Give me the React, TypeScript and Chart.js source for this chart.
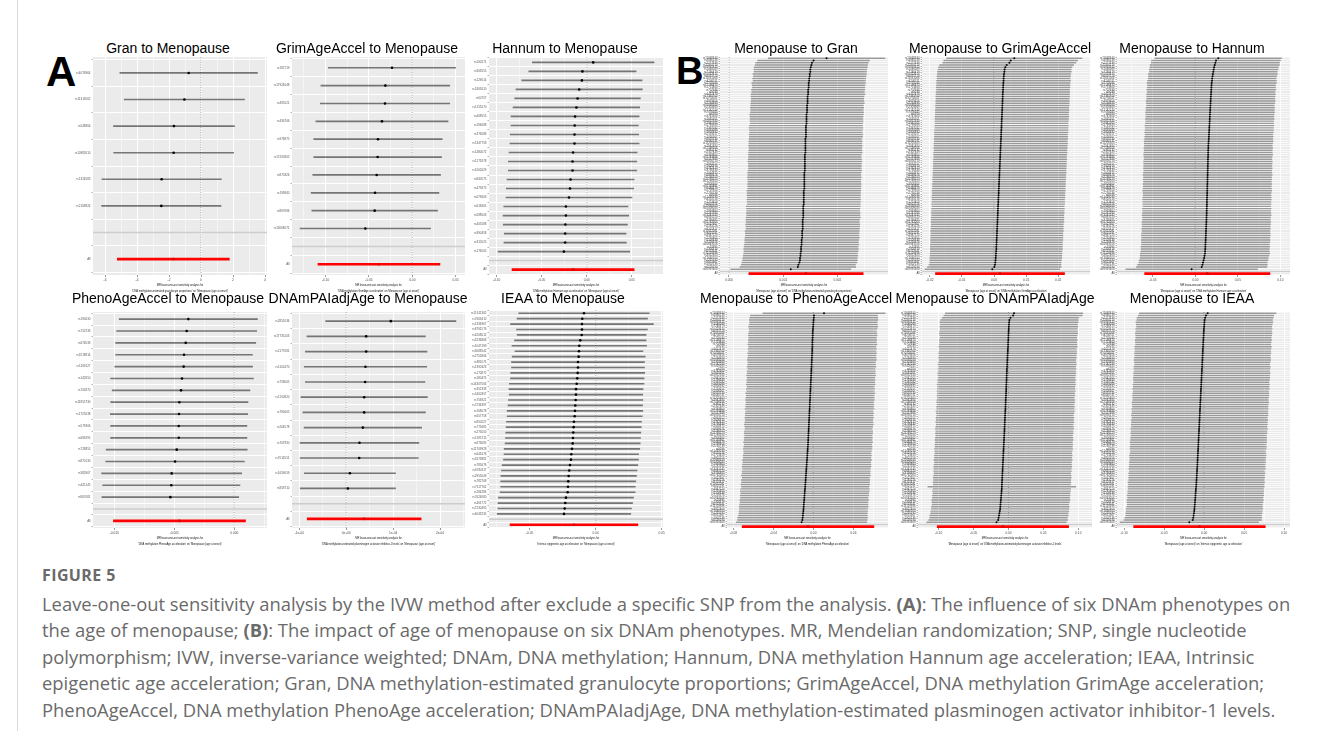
import React, { useEffect, useRef } from 'react';
import { Chart, registerables } from 'chart.js';
Chart.register(...registerables);

const FONT = '"Liberation Sans", Arial, Helvetica, sans-serif';

// ---------------- Panel A data (exposure: DNAm phenotype, outcome: menopause) ----------------
const GRAN_SNPS = ['rs4076964', 'rs11313062', 'rs548866', 'rs10982610', 'rs1324583', 'rs2168824'];
const GRAN_EST = [-0.77, -1.04, -1.69, -1.71, -2.46, -2.48];
const GRAN_SE = [2.194, 1.918, 1.929, 1.913, 1.903, 1.903];
const GRAN_ALL = [-1.73, 1.786];

const GRIM_SNPS = ['rs182719', 'rs17924048', 'rs495521', 'rs436706', 'rs976875', 'rs17205805', 'rs870326', 'rs193840', 'rs867696', 'rs13068071'];
const GRIM_EST = [-0.0234, -0.0311, -0.0315, -0.035, -0.0396, -0.04, -0.0411, -0.043, -0.0434, -0.0542];
const GRIM_SE = [0.0375, 0.0379, 0.0381, 0.0389, 0.0378, 0.0376, 0.0376, 0.0376, 0.037, 0.0384];
const GRIM_ALL = [-0.0385, 0.0359];

const HANN_SNPS = ['rs100271', 'rs303555', 'rs129014', 'rs2405610', 'rs50757', 'rs1155570', 'rs408555', 'rs194088', 'rs376588', 'rs1347758', 'rs1480072', 'rs1171878', 'rs1062629', 'rs840575', 'rs475875', 'rs679603', 'rs618405', 'rs588503', 'rs405588', 'rs390458', 'rs310525', 'rs176502'];
const HANN_EST = [0.0072, -0.0048, -0.0054, -0.0084, -0.0102, -0.0115, -0.013, -0.0134, -0.0136, -0.0136, -0.0152, -0.0158, -0.0158, -0.018, -0.0186, -0.0197, -0.0232, -0.0232, -0.0238, -0.024, -0.024, -0.0254];
const HANN_SE = [0.0345, 0.0304, 0.0341, 0.0358, 0.0356, 0.0359, 0.0363, 0.0361, 0.0364, 0.0366, 0.0363, 0.0364, 0.0364, 0.036, 0.0361, 0.0357, 0.0352, 0.0356, 0.0352, 0.0345, 0.0347, 0.0373];
const HANN_ALL = [-0.0152, 0.0346];

const PHENO_SNPS = ['rs190030', 'rs752233', 'rs676533', 'rs3218814', 'rs1169127', 'rs142650', 'rs702870', 'rs11855730', 'rs1725038', 'rs579306', 'rs696295', 'rs728855', 'rs870130', 'rs382667', 'rs621145', 'rs867081'];
const PHENO_EST = [-0.00383, -0.00397, -0.00405, -0.00419, -0.00422, -0.00436, -0.00444, -0.00458, -0.00461, -0.00463, -0.00463, -0.0048, -0.00494, -0.00522, -0.00525, -0.00533];
const PHENO_SE = [0.00294, 0.00298, 0.00298, 0.00291, 0.00293, 0.00304, 0.00293, 0.00292, 0.00292, 0.0029, 0.0029, 0.003, 0.00295, 0.00298, 0.00292, 0.00291];
const PHENO_ALL = [-0.00457, 0.00281];

const PAI_SNPS = ['rs2851034', 'rs17735103', 'rs2177081', 'rs1102470', 'rs758005', 'rs1150820', 'rs790005', 'rs204578', 'rs707830', 'rs7014551', 'rs1659059', 'rs858710'];
const PAI_EST = [9.51e-5, 4.26e-5, 4.26e-5, 4.11e-5, 4.04e-5, 3.83e-5, 3.83e-5, 3.55e-5, 2.83e-5, 2.77e-5, 0.79e-5, 0.36e-5];
const PAI_SE = [7.08e-5, 6.44e-5, 6.61e-5, 6.66e-5, 6.5e-5, 6.87e-5, 6.66e-5, 6.39e-5, 6.46e-5, 6.42e-5, 4.96e-5, 5.18e-5];
const PAI_ALL = [3.83e-5, 6.19e-5];

const IEAA_SNPS = ['rs11611362', 'rs7669410', 'rs1334967', 'rs8791576', 'rs4208012', 'rs3236868', 'rs1047199', 'rs3088542', 'rs2755806', 'rs381071',
  'rs1390323', 'rs170872', 'rs180475', 'rs14307566', 'rs352333', 'rs5400357', 'rs756921', 'rs7234397', 'rs168078', 'rs657758',
  'rs850527', 'rs775685', 'rs275050', 'rs1185715', 'rs873085', 'rs11709928', 'rs641676', 'rs1673882', 'rs785676', 'rs6784117',
  'rs2955049', 'rs782708', 'rs7117762', 'rs284286', 'rs7624080', 'rs401772', 'rs7230495', 'rs4043235'];
const IEAA_EST = [-0.00886, -0.01015, -0.01038, -0.01038, -0.01061, -0.01167, -0.01242, -0.01265, -0.01288, -0.01341,
  -0.01341, -0.01364, -0.01394, -0.01439, -0.01492, -0.01492, -0.01515, -0.01545, -0.01568, -0.01591,
  -0.01644, -0.01667, -0.01697, -0.0172, -0.01742, -0.01795, -0.01848, -0.01871, -0.01947, -0.02,
  -0.02045, -0.02076, -0.02098, -0.02121, -0.0225, -0.02303, -0.02348, -0.02402];
const IEAA_SE = [0.0252, 0.0252, 0.0276, 0.0253, 0.0249, 0.0254, 0.026, 0.0247, 0.0257, 0.0257,
  0.0257, 0.0259, 0.0258, 0.026, 0.0259, 0.0258, 0.026, 0.026, 0.0262, 0.0261,
  0.0261, 0.0261, 0.0261, 0.0261, 0.0261, 0.0262, 0.026, 0.0261, 0.0262, 0.0262,
  0.0262, 0.0261, 0.026, 0.0261, 0.0261, 0.026, 0.0258, 0.0258];
const IEAA_ALL = [-0.01644, 0.0247];

// ---------------- Panel B data (exposure: menopause, outcome: DNAm phenotype) ----------------
const B_SNPS = [
  'rs11668344', 'rs4886238', 'rs2277339', 'rs12461110', 'rs16991615', 'rs1046089', 'rs7246479', 'rs10423674', 'rs6075720', 'rs11031006',
  'rs4246511', 'rs2720044', 'rs12196873', 'rs1713460', 'rs707938', 'rs9039', 'rs1411478', 'rs17365704', 'rs10734411', 'rs4879656',
  'rs2234693', 'rs10838168', 'rs2303369', 'rs12142240', 'rs7459185', 'rs6780', 'rs3741604', 'rs1635501', 'rs10852344', 'rs2941505',
  'rs1799949', 'rs7397032', 'rs4693089', 'rs1800932', 'rs2153157', 'rs1056507', 'rs8070740', 'rs6440741', 'rs11205303', 'rs2941484',
  'rs12599106', 'rs365132', 'rs2307449', 'rs9393800', 'rs10183486', 'rs2517388', 'rs16858210', 'rs1961157', 'rs7606918', 'rs4762413',
  'rs3736830', 'rs1054875', 'rs6899676', 'rs2236553', 'rs11738223', 'rs12294104', 'rs4806660', 'rs10130861', 'rs6484478', 'rs1799950',
  'rs2230739', 'rs9796', 'rs12439290', 'rs8110516', 'rs1713458', 'rs4801756', 'rs11668309', 'rs10409043', 'rs7993864', 'rs2241584',
  'rs13241545', 'rs6891520', 'rs3736485', 'rs10762003', 'rs2027307', 'rs1183226', 'rs8101417', 'rs12611091', 'rs9425291', 'rs4947220',
  'rs2291955', 'rs1109338', 'rs7259376', 'rs16843556', 'rs10995', 'rs2304319', 'rs6513541', 'rs11129396', 'rs3822400', 'rs17690703',
  'rs2255192', 'rs9851967', 'rs1002136', 'rs6559190', 'rs16991608'];

const MG_EST = [0.0018, 0.00156, 0.00153, 0.00152, 0.00151, 0.0015, 0.0015, 0.00149, 0.00149, 0.00148,
  0.00148, 0.00147, 0.00147, 0.00147, 0.00146, 0.00146, 0.00146, 0.00145, 0.00145, 0.00145,
  0.00145, 0.00144, 0.00144, 0.00144, 0.00144, 0.00143, 0.00143, 0.00143, 0.00143, 0.00143,
  0.00142, 0.00142, 0.00142, 0.00142, 0.00142, 0.00142, 0.00141, 0.00141, 0.00141, 0.00141,
  0.00141, 0.00141, 0.00141, 0.0014, 0.0014, 0.0014, 0.0014, 0.0014, 0.0014, 0.0014,
  0.0014, 0.00139, 0.00139, 0.00139, 0.00139, 0.00139, 0.00139, 0.00139, 0.00139, 0.00138,
  0.00138, 0.00138, 0.00138, 0.00138, 0.00138, 0.00138, 0.00137, 0.00137, 0.00137, 0.00137,
  0.00137, 0.00137, 0.00136, 0.00136, 0.00136, 0.00136, 0.00136, 0.00135, 0.00135, 0.00135,
  0.00135, 0.00134, 0.00134, 0.00134, 0.00133, 0.00133, 0.00133, 0.00132, 0.00132, 0.00131,
  0.00131, 0.0013, 0.00128, 0.00127, 0.00114];
const MG_SE = [0.000549, 0.000527, 0.00053, 0.000528, 0.000533, 0.000531, 0.000529, 0.000534, 0.00053, 0.000532,
  0.000528, 0.000535, 0.000531, 0.000529, 0.000533, 0.00053, 0.000536, 0.000532, 0.000529, 0.000531,
  0.000534, 0.00053, 0.000533, 0.000528, 0.000532, 0.000535, 0.000531, 0.00053, 0.000533, 0.000529,
  0.000532, 0.000536, 0.000531, 0.00053, 0.000534, 0.000532, 0.000529, 0.000533, 0.000531, 0.000535,
  0.00053, 0.000532, 0.000534, 0.000531, 0.000529, 0.000533, 0.000536, 0.000531, 0.000532, 0.00053,
  0.000534, 0.000533, 0.000531, 0.000535, 0.000532, 0.00053, 0.000534, 0.000533, 0.000531, 0.000536,
  0.000532, 0.000534, 0.000531, 0.000535, 0.000533, 0.000532, 0.000536, 0.000534, 0.000531, 0.000535,
  0.000533, 0.000537, 0.000534, 0.000532, 0.000536, 0.000535, 0.000533, 0.000537, 0.000535, 0.000534,
  0.000538, 0.000536, 0.000534, 0.000538, 0.000536, 0.000539, 0.000537, 0.000535, 0.000539, 0.000538,
  0.00054, 0.000541, 0.000537, 0.000545, 0.000565];
const MG_ALL = [0.001421, 0.000538];

const MGR_EST = [0.00632, 0.0052, 0.00478, 0.00395, 0.00352, 0.00331, 0.00322, 0.00311, 0.00306, 0.00299,
  0.00297, 0.0029, 0.00288, 0.00283, 0.00282, 0.00277, 0.00273, 0.00272, 0.00268, 0.00265,
  0.00264, 0.00259, 0.00256, 0.00255, 0.0025, 0.00248, 0.00246, 0.00241, 0.0024, 0.00236,
  0.00233, 0.00232, 0.00227, 0.00225, 0.00221, 0.00219, 0.00217, 0.00212, 0.0021, 0.00208,
  0.00203, 0.00201, 0.00199, 0.00194, 0.00192, 0.0019, 0.00186, 0.00183, 0.00181, 0.00177,
  0.00175, 0.0017, 0.00169, 0.00165, 0.00161, 0.0016, 0.00155, 0.00153, 0.00151, 0.00146,
  0.00145, 0.00141, 0.00139, 0.00135, 0.00134, 0.00129, 0.00127, 0.00125, 0.0012, 0.00118,
  0.00116, 0.00112, 0.00109, 0.00107, 0.00103, 0.001, 0.00098, 0.00093, 0.00091, 0.00088,
  0.00086, 0.00081, 0.0008, 0.00076, 0.00072, 0.00071, 0.00066, 0.00061, 0.00058, 0.00052,
  0.00048, 0.0004, 0.00029, 0.00012, -0.00052];
const MGR_SE = [0.01076, 0.01062, 0.01058, 0.01065, 0.0106, 0.01057, 0.01063, 0.01059, 0.01061, 0.01056,
  0.01064, 0.01058, 0.0106, 0.01062, 0.01055, 0.01061, 0.01059, 0.01063, 0.01057, 0.0106,
  0.01058, 0.01062, 0.01056, 0.01061, 0.01059, 0.01057, 0.01063, 0.01058, 0.0106, 0.01055,
  0.01061, 0.01057, 0.01059, 0.01062, 0.01056, 0.01058, 0.0106, 0.01054, 0.01061, 0.01057,
  0.01059, 0.01055, 0.0106, 0.01058, 0.01053, 0.01059, 0.01056, 0.01058, 0.01054, 0.01057,
  0.01055, 0.01059, 0.01053, 0.01056, 0.01058, 0.01052, 0.01057, 0.01055, 0.01053, 0.01058,
  0.01052, 0.01055, 0.01057, 0.01051, 0.01054, 0.01056, 0.0105, 0.01055, 0.01052, 0.01054,
  0.01049, 0.01053, 0.01051, 0.01055, 0.01048, 0.01052, 0.0105, 0.01053, 0.01047, 0.01051,
  0.01049, 0.01052, 0.01046, 0.0105, 0.01048, 0.01051, 0.01045, 0.01049, 0.01047, 0.0105,
  0.01046, 0.01044, 0.01048, 0.01062, 0.0107];
const MGR_ALL = [0.00187, 0.01025];

const MH_EST = [0.0271, 0.0244, 0.0236, 0.0229, 0.0222, 0.0216, 0.0212, 0.0207, 0.0203, 0.0199,
  0.0196, 0.0193, 0.0191, 0.0189, 0.0188, 0.0186, 0.0185, 0.0183, 0.0182, 0.018,
  0.0179, 0.0178, 0.0176, 0.0175, 0.0174, 0.0172, 0.0171, 0.017, 0.0169, 0.0167,
  0.0166, 0.0165, 0.0164, 0.0162, 0.0161, 0.016, 0.0158, 0.0157, 0.0155, 0.0153,
  0.0153, 0.0152, 0.0151, 0.0151, 0.015, 0.0149, 0.0149, 0.0148, 0.0147, 0.0147,
  0.0146, 0.0145, 0.0145, 0.0144, 0.0143, 0.0143, 0.0142, 0.0141, 0.0141, 0.014,
  0.0139, 0.0139, 0.0138, 0.0137, 0.0137, 0.0136, 0.0136, 0.0135, 0.0134, 0.0134,
  0.0133, 0.0132, 0.0131, 0.013, 0.0129, 0.0128, 0.0127, 0.0126, 0.0125, 0.0124,
  0.0123, 0.0122, 0.0121, 0.0119, 0.0118, 0.0117, 0.0115, 0.0114, 0.0108, 0.0104,
  0.0098, 0.0091, 0.0084, 0.0075, -0.0043];
const MH_SE = [0.038, 0.0387, 0.0384, 0.0388, 0.0385, 0.0386, 0.0383, 0.0387, 0.0385, 0.0384,
  0.0386, 0.0388, 0.0384, 0.0385, 0.0387, 0.0383, 0.0386, 0.0385, 0.0384, 0.0387,
  0.0385, 0.0383, 0.0386, 0.0384, 0.0387, 0.0385, 0.0384, 0.0386, 0.0383, 0.0385,
  0.0387, 0.0384, 0.0385, 0.0386, 0.0383, 0.0385, 0.0384, 0.0387, 0.0385, 0.0383,
  0.0386, 0.0384, 0.0385, 0.0387, 0.0384, 0.0383, 0.0386, 0.0385, 0.0384, 0.0386,
  0.0383, 0.0385, 0.0387, 0.0384, 0.0385, 0.0383, 0.0386, 0.0384, 0.0385, 0.0387,
  0.0384, 0.0383, 0.0385, 0.0386, 0.0384, 0.0385, 0.0383, 0.0386, 0.0384, 0.0385,
  0.0387, 0.0384, 0.0383, 0.0386, 0.0385, 0.0384, 0.0386, 0.0383, 0.0385, 0.0387,
  0.0384, 0.0386, 0.0385, 0.0383, 0.0386, 0.0384, 0.0385, 0.0388, 0.0386, 0.0384,
  0.0387, 0.0385, 0.0389, 0.0391, 0.0395];
const MH_ALL = [0.0141, 0.0376];

const MP_EST = [0.0107, 0.0007, 0.0005, 0.0003, 0.0001, 0.0, -0.0002, -0.0003, -0.0005, -0.0006,
  -0.0006, -0.0007, -0.0008, -0.0009, -0.0009, -0.001, -0.0011, -0.0011, -0.0012, -0.0013,
  -0.0014, -0.0015, -0.0016, -0.0017, -0.0018, -0.0019, -0.002, -0.0021, -0.0022, -0.0023,
  -0.0024, -0.0025, -0.0026, -0.0027, -0.0028, -0.0029, -0.003, -0.0031, -0.0032, -0.0033,
  -0.0034, -0.0035, -0.0036, -0.0037, -0.0038, -0.0039, -0.004, -0.0041, -0.0042, -0.0043,
  -0.0044, -0.0045, -0.0046, -0.0047, -0.0048, -0.0049, -0.005, -0.0051, -0.0052, -0.0053,
  -0.0054, -0.0056, -0.0057, -0.0059, -0.006, -0.0062, -0.0063, -0.0065, -0.0066, -0.0068,
  -0.0069, -0.0071, -0.0072, -0.0074, -0.0075, -0.0077, -0.0078, -0.008, -0.0081, -0.0083,
  -0.0085, -0.0086, -0.0088, -0.009, -0.0091, -0.0093, -0.0095, -0.0096, -0.0098, -0.01,
  -0.0102, -0.0104, -0.0107, -0.011, -0.0117];
const MP_SE = [0.0312, 0.0324, 0.0326, 0.0328, 0.0325, 0.0327, 0.0329, 0.0326, 0.0324, 0.0327,
  0.0328, 0.0325, 0.0327, 0.0326, 0.0329, 0.0324, 0.0327, 0.0325, 0.0328, 0.0326,
  0.0327, 0.0329, 0.0325, 0.0326, 0.0328, 0.0324, 0.0327, 0.0326, 0.0329, 0.0325,
  0.0327, 0.0326, 0.0328, 0.0324, 0.0327, 0.0325, 0.0329, 0.0326, 0.0327, 0.0328,
  0.0325, 0.0327, 0.0326, 0.0329, 0.0324, 0.0327, 0.0326, 0.0328, 0.0325, 0.0327,
  0.0329, 0.0326, 0.0324, 0.0327, 0.0328, 0.0325, 0.0327, 0.0326, 0.0329, 0.0325,
  0.0327, 0.0328, 0.0326, 0.0324, 0.0327, 0.0325, 0.0329, 0.0326, 0.0327, 0.0328,
  0.0325, 0.0327, 0.0326, 0.0329, 0.0324, 0.0327, 0.0326, 0.0328, 0.0325, 0.0327,
  0.0329, 0.0326, 0.0327, 0.0325, 0.0328, 0.0326, 0.0327, 0.0329, 0.0326, 0.0328,
  0.0327, 0.0329, 0.0331, 0.033, 0.0333];
const MP_ALL = [-0.0053, 0.0336];

const MPAI_EST = [0.008, 0.0066, 0.0029, 0.0014, 0.0009, 0.0007, 0.0005, 0.0004, 0.0002, 0.0001,
  -0.0001, -0.0002, -0.0003, -0.0005, -0.0006, -0.0007, -0.0009, -0.001, -0.0012, -0.0014,
  -0.0015, -0.0016, -0.0018, -0.0019, -0.002, -0.0022, -0.0023, -0.0024, -0.0026, -0.0027,
  -0.0028, -0.0029, -0.0031, -0.0032, -0.0033, -0.0034, -0.0035, -0.0036, -0.0038, -0.0039,
  -0.004, -0.0042, -0.0043, -0.0044, -0.0046, -0.0047, -0.0049, -0.005, -0.0052, -0.0053,
  -0.0054, -0.0056, -0.0057, -0.0058, -0.006, -0.0061, -0.0063, -0.0064, -0.0066, -0.0067,
  -0.0069, -0.007, -0.0072, -0.0073, -0.0075, -0.0076, -0.0078, -0.0079, -0.0081, -0.0082,
  -0.0084, -0.0085, -0.0087, -0.0088, -0.009, -0.0091, -0.0093, -0.0094, -0.0095, -0.0096,
  -0.0099, -0.0101, -0.0104, -0.0107, -0.0109, -0.0112, -0.0115, -0.0117, -0.012, -0.0124,
  -0.013, -0.0136, -0.0142, -0.0148, -0.0171];
const MPAI_SE = [0.0502, 0.0505, 0.0499, 0.0503, 0.0506, 0.0501, 0.0504, 0.05, 0.0503, 0.0505,
  0.0502, 0.0499, 0.0504, 0.0501, 0.0503, 0.0506, 0.05, 0.0502, 0.0504, 0.0501,
  0.0503, 0.0499, 0.0502, 0.0505, 0.05, 0.0503, 0.0501, 0.0504, 0.0502, 0.0499,
  0.0503, 0.0501, 0.0505, 0.05, 0.0502, 0.0504, 0.0501, 0.0503, 0.0499, 0.0502,
  0.0504, 0.05, 0.0503, 0.0501, 0.0506, 0.0502, 0.0499, 0.0503, 0.0501, 0.0504,
  0.05, 0.0502, 0.0505, 0.0501, 0.0503, 0.0499, 0.0502, 0.0504, 0.05, 0.0503,
  0.0501, 0.0504, 0.0502, 0.0499, 0.0503, 0.0501, 0.0505, 0.05, 0.0502, 0.0504,
  0.0501, 0.0503, 0.0499, 0.0502, 0.0504, 0.05, 0.0503, 0.0501, 0.054, 0.0502,
  0.0504, 0.05, 0.0503, 0.0501, 0.0505, 0.0502, 0.0499, 0.0503, 0.0501, 0.0504,
  0.0502, 0.0506, 0.0503, 0.0507, 0.051];
const MPAI_ALL = [-0.008, 0.048];

const MI_EST = [0.0045, 0.0024, 0.0013, 0.0007, 0.0004, 0.0002, 0.0, -0.0002, -0.0003, -0.0005,
  -0.0006, -0.0008, -0.0009, -0.0011, -0.0012, -0.0013, -0.0015, -0.0016, -0.0017, -0.0019,
  -0.002, -0.0021, -0.0023, -0.0024, -0.0025, -0.0027, -0.0028, -0.0029, -0.0031, -0.0032,
  -0.0033, -0.0035, -0.0036, -0.0037, -0.0039, -0.004, -0.0041, -0.0043, -0.0044, -0.0045,
  -0.0047, -0.0048, -0.0049, -0.0051, -0.0052, -0.0053, -0.0055, -0.0056, -0.0057, -0.0059,
  -0.006, -0.0061, -0.0063, -0.0064, -0.0065, -0.0067, -0.0068, -0.0069, -0.0071, -0.0072,
  -0.0073, -0.0075, -0.0076, -0.0077, -0.0079, -0.008, -0.0081, -0.0083, -0.0084, -0.0086,
  -0.0087, -0.0089, -0.009, -0.0092, -0.0093, -0.0095, -0.0097, -0.0098, -0.01, -0.0102,
  -0.0104, -0.0106, -0.0108, -0.011, -0.0112, -0.0114, -0.0116, -0.0119, -0.0121, -0.0124,
  -0.0127, -0.0131, -0.0136, -0.0143, -0.0185];
const MI_SE = [0.0436, 0.0432, 0.0435, 0.0433, 0.0437, 0.0434, 0.0431, 0.0435, 0.0433, 0.0436,
  0.0434, 0.0432, 0.0435, 0.0433, 0.0431, 0.0436, 0.0434, 0.0433, 0.0435, 0.0432,
  0.0434, 0.0436, 0.0433, 0.0431, 0.0435, 0.0434, 0.0432, 0.0436, 0.0433, 0.0435,
  0.0434, 0.0431, 0.0435, 0.0433, 0.0436, 0.0432, 0.0434, 0.0435, 0.0433, 0.0431,
  0.0436, 0.0434, 0.0432, 0.0435, 0.0433, 0.0434, 0.0436, 0.0431, 0.0435, 0.0433,
  0.0434, 0.0432, 0.0436, 0.0433, 0.0435, 0.0431, 0.0434, 0.0433, 0.0436, 0.0432,
  0.0435, 0.0434, 0.0431, 0.0433, 0.0436, 0.0434, 0.0432, 0.0435, 0.0433, 0.0434,
  0.0436, 0.0431, 0.0435, 0.0433, 0.0434, 0.0432, 0.0436, 0.0433, 0.0435, 0.0431,
  0.0434, 0.0433, 0.0436, 0.0432, 0.0435, 0.0434, 0.0431, 0.0433, 0.0436, 0.0434,
  0.0435, 0.0433, 0.0437, 0.0439, 0.0442];
const MI_ALL = [-0.0058, 0.042];

// ---------------- Axis tick values ----------------
const TICKS_GRAN = [-6, -4, -2, 0, 2, 4];
const TICKS_GRIM = [-0.1, -0.05, 0, 0.05];
const TICKS_HANN = [-0.1, -0.05, 0, 0.05];
const TICKS_PHENO = [-0.01, -0.005, 0];
const TICKS_PAI = [-1e-4, 0, 1e-4, 2e-4];
const TICKS_IEAA = [-0.05, 0, 0.05];
const TICKS_MG = [0, 0.001, 0.002];
const TICKS_MGR = [-0.02, -0.01, 0, 0.01, 0.02];
const TICKS_MH = [-0.05, 0, 0.05, 0.1];
const TICKS_MP = [-0.08, -0.04, 0, 0.04];
const TICKS_MPAI = [-0.1, -0.05, 0, 0.05, 0.1];
const TICKS_MI = [-0.1, -0.05, 0, 0.05, 0.1];

const MR_LINE = 'MR leave-one-out sensitivity analysis for';
const ONSET = "'Menopause (age at onset)'";

const fixed = (d) => (v) => v.toFixed(d);
const sci = (v) => (Math.abs(v) < 1e-12 ? '0e+00' : `${Math.round(v * 1e4)}e-04`);

const PANELS = [
  { title: 'Gran to Menopause', cx: 168, ty: 40, snps: GRAN_SNPS, est: GRAN_EST, se: GRAN_SE, all: GRAN_ALL, ticks: TICKS_GRAN, fmt: fixed(0), min: -6.75, max: 4.125,
    box: [93, 267, 57, 275], yw: 40, xt: [MR_LINE, `'DNA methylation-estimated granulocyte proportions' on ${ONSET}`] },
  { title: 'GrimAgeAccel to Menopause', cx: 367, ty: 40, snps: GRIM_SNPS, est: GRIM_EST, se: GRIM_SE, all: GRIM_ALL, ticks: TICKS_GRIM, fmt: fixed(2), min: -0.1388, max: 0.0608,
    box: [292, 465, 57, 275], yw: 36, xt: [MR_LINE, `'DNA methylation GrimAge acceleration' on ${ONSET}`] },
  { title: 'Hannum to Menopause', cx: 565, ty: 40, snps: HANN_SNPS, est: HANN_EST, se: HANN_SE, all: HANN_ALL, ticks: TICKS_HANN, fmt: fixed(2), min: -0.1086, max: 0.0847,
    box: [489, 663, 57, 275], yw: 36, xt: [MR_LINE, `'DNA methylation Hannum age acceleration' on ${ONSET}`] },
  { title: 'PhenoAgeAccel to Menopause', cx: 168, ty: 290, snps: PHENO_SNPS, est: PHENO_EST, se: PHENO_SE, all: PHENO_ALL, ticks: TICKS_PHENO, fmt: fixed(3), min: -0.01178, max: 0.00273,
    box: [93, 267, 312, 528], yw: 40, xt: [MR_LINE, `'DNA methylation PhenoAge acceleration' on ${ONSET}`] },
  { title: 'DNAmPAIadjAge to Menopause', cx: 368, ty: 290, snps: PAI_SNPS, est: PAI_EST, se: PAI_SE, all: PAI_ALL, ticks: TICKS_PAI, fmt: sci, min: -1.155e-4, max: 2.532e-4,
    box: [292, 465, 312, 528], yw: 36, xt: [MR_LINE, `'DNA methylation-estimated plasminogen activator inhibitor-1 levels' on ${ONSET}`] },
  { title: 'IEAA to Menopause', cx: 563, ty: 290, snps: IEAA_SNPS, est: IEAA_EST, se: IEAA_SE, all: IEAA_ALL, ticks: TICKS_IEAA, fmt: fixed(2), min: -0.0808, max: 0.051,
    box: [489, 663, 310, 528], yw: 36, xt: [MR_LINE, `'Intrinsic epigenetic age acceleration' on ${ONSET}`] },
  { title: 'Menopause to Gran', cx: 796, ty: 40, snps: B_SNPS, est: MG_EST, se: MG_SE, all: MG_ALL, ticks: TICKS_MG, fmt: fixed(3), min: -0.000166, max: 0.002934,
    box: [720, 888, 57, 275], yw: 26, xt: [MR_LINE, `${ONSET} on 'DNA methylation-estimated granulocyte proportions'`] },
  { title: 'Menopause to GrimAgeAccel', cx: 1000, ty: 40, snps: B_SNPS, est: MGR_EST, se: MGR_SE, all: MGR_ALL, ticks: TICKS_MGR, fmt: fixed(2), min: -0.02243, max: 0.0299,
    box: [922, 1090, 57, 275], yw: 26, xt: [MR_LINE, `${ONSET} on 'DNA methylation GrimAge acceleration'`] },
  { title: 'Menopause to Hannum', cx: 1192, ty: 40, snps: B_SNPS, est: MH_EST, se: MH_SE, all: MH_ALL, ticks: TICKS_MH, fmt: fixed(2), min: -0.0921, max: 0.1114,
    box: [1117, 1290, 57, 275], yw: 26, xt: [MR_LINE, `${ONSET} on 'DNA methylation Hannum age acceleration'`] },
  { title: 'Menopause to PhenoAgeAccel', cx: 796, ty: 290, snps: B_SNPS, est: MP_EST, se: MP_SE, all: MP_ALL, ticks: TICKS_MP, fmt: fixed(2), min: -0.0863, max: 0.0747,
    box: [727, 888, 312, 528], yw: 26, xt: [MR_LINE, `${ONSET} on 'DNA methylation PhenoAge acceleration'`] },
  { title: 'Menopause to DNAmPAIadjAge', cx: 995, ty: 290, snps: B_SNPS, est: MPAI_EST, se: MPAI_SE, all: MPAI_ALL, ticks: TICKS_MPAI, fmt: fixed(2), min: -0.1296, max: 0.1196,
    box: [918, 1092, 312, 528], yw: 26, xt: [MR_LINE, `${ONSET} on 'DNA methylation-estimated plasminogen activator inhibitor-1 levels'`] },
  { title: 'Menopause to IEAA', cx: 1192, ty: 290, snps: B_SNPS, est: MI_EST, se: MI_SE, all: MI_ALL, ticks: TICKS_MI, fmt: fixed(2), min: -0.109, max: 0.1075,
    box: [1117, 1290, 312, 528], yw: 26, xt: [MR_LINE, `${ONSET} on 'Intrinsic epigenetic age acceleration'`] },
];

const PAD_TOP = 4;
const PAD_RIGHT = 10;
const XH = 24;

const forestPlugin = {
  id: 'forest',
  beforeDraw(chart) {
    const { ctx, chartArea: a } = chart;
    ctx.save();
    ctx.fillStyle = '#EBEBEB';
    ctx.fillRect(a.left, a.top, a.right - a.left, a.bottom - a.top);
    ctx.restore();
  },
  beforeDatasetsDraw(chart, _args, opts) {
    const { ctx, chartArea: a, scales } = chart;
    const x0 = scales.x.getPixelForValue(0);
    const yb = scales.y.getPixelForValue(opts.blankRow);
    ctx.save();
    ctx.strokeStyle = 'rgba(0,0,0,0.4)';
    ctx.lineWidth = 0.8;
    ctx.setLineDash([1, 1.5]);
    ctx.beginPath();
    ctx.moveTo(x0, a.top);
    ctx.lineTo(x0, a.bottom);
    ctx.stroke();
    ctx.setLineDash([]);
    ctx.strokeStyle = '#cdcdcd';
    ctx.lineWidth = 1.5;
    ctx.beginPath();
    ctx.moveTo(a.left, yb);
    ctx.lineTo(a.right, yb);
    ctx.stroke();
    ctx.restore();
  },
};

function Forest({ p }) {
  const ref = useRef(null);
  const [x0, x1, y0, y1] = p.box;
  const w = x1 - x0 + p.yw + PAD_RIGHT;
  const h = y1 - y0 + PAD_TOP + XH;
  useEffect(() => {
    const n = p.est.length;
    const labels = [...p.snps.slice(0, n), '', 'All'];
    const ci = (b, s) => [b - 1.96 * s, b + 1.96 * s];
    const range = p.max - p.min;
    const majors = p.ticks;
    const isMajor = (v) => majors.some((m) => Math.abs(m - v) < range * 1e-6);
    const step = majors[1] - majors[0];
    const allTicks = [];
    for (let i = -1; i < majors.length; i++) {
      const base = i < 0 ? majors[0] - step : majors[i];
      if (i >= 0 && base >= p.min && base <= p.max) allTicks.push(base);
      const minor = base + step / 2;
      if (minor >= p.min && minor <= p.max) allTicks.push(minor);
    }
    const dense = n > 50;
    const chart = new Chart(ref.current, {
      type: 'scatter',
      data: {
        datasets: [
          { type: 'bar', indexAxis: 'y', grouped: false, order: 4,
            data: p.est.map((b, i) => ({ x: ci(b, p.se[i]), y: i + 1 })),
            backgroundColor: dense ? 'rgba(40,40,40,0.42)' : 'rgba(0,0,0,0.5)', borderWidth: 0, barThickness: dense ? 0.8 : 1 },
          { type: 'bar', indexAxis: 'y', grouped: false, order: 3,
            data: [{ x: ci(p.all[0], p.all[1]), y: n + 2 }],
            backgroundColor: '#ff0000', borderWidth: 0, barThickness: 2 },
          { type: 'scatter', order: 2,
            data: p.est.map((b, i) => ({ x: b, y: i + 1 })),
            pointRadius: dense ? 1 : 1.3, backgroundColor: '#000', borderWidth: 0 },
          { type: 'scatter', order: 1,
            data: [{ x: p.all[0], y: n + 2 }],
            pointRadius: 1.3, backgroundColor: '#d00000', borderWidth: 0 },
        ],
      },
      options: {
        animation: false,
        responsive: false,
        events: [],
        layout: { padding: { top: PAD_TOP, right: PAD_RIGHT, left: 0, bottom: 0 } },
        plugins: { legend: { display: false }, tooltip: { enabled: false }, forest: { blankRow: n + 1 } },
        scales: {
          x: {
            type: 'linear', position: 'bottom', min: p.min, max: p.max, offset: false,
            afterBuildTicks: (s) => { s.ticks = allTicks.map((v) => ({ value: v })); },
            afterFit: (s) => { s.height = XH; },
            ticks: { autoSkip: false, maxRotation: 0, padding: 1, color: '#4d4d4d',
              font: { family: FONT, size: 3.2 },
              callback: (v) => (isMajor(v) ? p.fmt(v) : '') },
            grid: { color: '#ffffff', offset: false,
              lineWidth: (c) => (c.tick && isMajor(c.tick.value) ? 1 : 0.5),
              drawTicks: true, tickLength: 2, tickWidth: 0.6,
              tickColor: (c) => (c.tick && isMajor(c.tick.value) ? '#555' : 'rgba(0,0,0,0)') },
            border: { display: false },
            title: { display: true, text: p.xt, color: '#111', font: { family: FONT, size: 2.6, lineHeight: 2.2 }, padding: { top: 0, bottom: 5 } },
          },
          y: {
            type: 'linear', reverse: true, min: 0.4, max: n + 2.6, offset: false,
            afterBuildTicks: (s) => { s.ticks = labels.map((_, i) => ({ value: i + 1 })); },
            afterFit: (s) => { s.width = p.yw; },
            ticks: { autoSkip: false, padding: 1, color: dense ? '#444' : '#5a5a5a', font: { family: FONT, size: dense ? 2.8 : 3 },
              callback: (v) => labels[Math.round(v) - 1] },
            grid: { color: '#ffffff', lineWidth: dense ? 0.7 : 1, drawTicks: true, tickLength: 1.5, tickWidth: 0.5, tickColor: '#666' },
            border: { display: false },
          },
        },
      },
      plugins: [forestPlugin],
    });
    return () => chart.destroy();
  }, []);
  return (
    <>
      <div style={{ position: 'absolute', left: p.cx - 150, width: 300, top: p.ty, textAlign: 'center', fontFamily: FONT, fontSize: 14, lineHeight: '16px', color: '#000', whiteSpace: 'nowrap' }}>{p.title}</div>
      <canvas ref={ref} width={w} height={h} style={{ position: 'absolute', left: x0 - p.yw, top: y0 - PAD_TOP, width: w, height: h }} />
    </>
  );
}

const CAPTION_STYLE = { position: 'absolute', left: 42, fontFamily: '"Open Sans", "Noto Sans", sans-serif', fontSize: 18.4, color: '#6a6a6a', whiteSpace: 'nowrap', lineHeight: '20px' };

export default function App() {
  return (
    <div style={{ position: 'absolute', left: 0, top: 0, width: 1319, height: 731, background: '#fff', overflow: 'hidden' }}>
      <div style={{ position: 'absolute', left: 17, top: 0, width: 1, height: 731, background: '#d9d9d9' }} />
      <div style={{ position: 'absolute', left: 46, top: 48, fontFamily: FONT, fontWeight: 700, fontSize: 42, lineHeight: '48px', color: '#000' }}>A</div>
      <div style={{ position: 'absolute', left: 676, top: 49, fontFamily: FONT, fontWeight: 700, fontSize: 38, lineHeight: '44px', color: '#000' }}>B</div>
      {PANELS.map((p, i) => <Forest key={i} p={p} />)}
      <div style={{ ...CAPTION_STYLE, top: 565, fontSize: 16, fontWeight: 700, letterSpacing: '0.4px' }}>FIGURE 5</div>
      <div style={{ ...CAPTION_STYLE, top: 594 }}>Leave-one-out sensitivity analysis by the IVW method after exclude a specific SNP from the analysis. <b>(A)</b>: The influence of six DNAm phenotypes on</div>
      <div style={{ ...CAPTION_STYLE, top: 620 }}>the age of menopause; <b>(B)</b>: The impact of age of menopause on six DNAm phenotypes. MR, Mendelian randomization; SNP, single nucleotide</div>
      <div style={{ ...CAPTION_STYLE, top: 647 }}>polymorphism; IVW, inverse-variance weighted; DNAm, DNA methylation; Hannum, DNA methylation Hannum age acceleration; IEAA, Intrinsic</div>
      <div style={{ ...CAPTION_STYLE, top: 673 }}>epigenetic age acceleration; Gran, DNA methylation-estimated granulocyte proportions; GrimAgeAccel, DNA methylation GrimAge acceleration;</div>
      <div style={{ ...CAPTION_STYLE, top: 700 }}>PhenoAgeAccel, DNA methylation PhenoAge acceleration; DNAmPAIadjAge, DNA methylation-estimated plasminogen activator inhibitor-1 levels.</div>
    </div>
  );
}
